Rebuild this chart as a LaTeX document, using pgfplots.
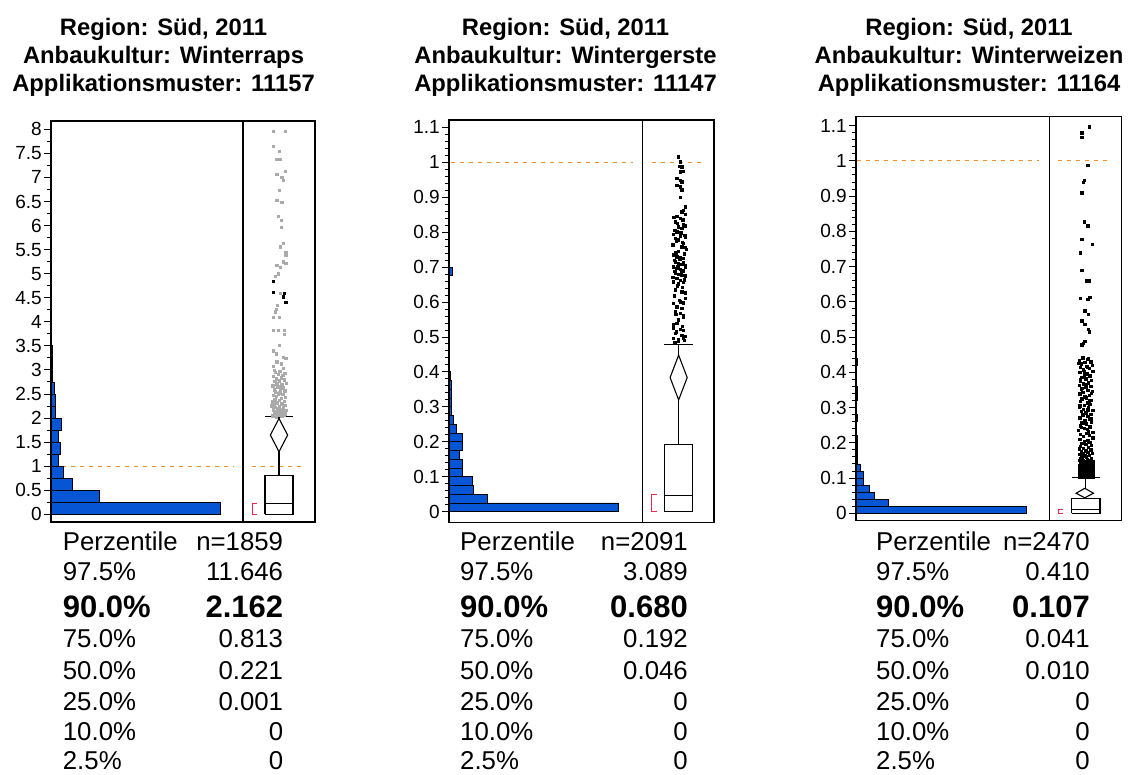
\documentclass[border=0pt]{standalone}
\usepackage{pgfplots}
\pgfplotsset{compat=1.18}
\usepackage{fontspec}
\setmainfont{Liberation Sans}
\definecolor{barblue}{RGB}{5,85,212}
\definecolor{dashorange}{RGB}{245,145,40}
\definecolor{brred}{RGB}{240,40,80}
\definecolor{ptgray}{RGB}{170,170,170}
\newcommand\tfont{\fontsize{25.8}{28}\selectfont}
\newcommand\bfont{\fontsize{31}{34}\selectfont\bfseries}
\newcommand\hfont{\fontsize{23.8}{26}\selectfont\bfseries}
\newcommand\trow[6]{\node[anchor=base west,inner sep=0pt,font=#4] at (#1pt,-#3pt) {#5};
  \node[anchor=base east,inner sep=0pt,font=#4] at (#2pt,-#3pt) {#6};}
\newcommand\ptitle[4]{\node[anchor=base,inner sep=0pt,font=\hfont] at (#1pt,-35pt) {#2};
  \node[anchor=base,inner sep=0pt,font=\hfont] at (#1pt,-63pt) {#3};
  \node[anchor=base,inner sep=0pt,font=\hfont] at (#1pt,-91pt) {#4};}
\newcommand\ptable[9]{%
  \trow{#1}{#2}{550}{\tfont}{Perzentile}{#3}
  \trow{#1}{#2}{580.7}{\tfont}{97.5\%}{#4}
  \trow{#1}{#2}{617.3}{\bfont}{90.0\%}{#5}
  \trow{#1}{#2}{647.3}{\tfont}{75.0\%}{#6}
  \trow{#1}{#2}{679}{\tfont}{50.0\%}{#7}
  \trow{#1}{#2}{710}{\tfont}{25.0\%}{#8}
  \trow{#1}{#2}{740.5}{\tfont}{10.0\%}{#9}
  \trow{#1}{#2}{769.5}{\tfont}{2.5\%}{0}}
\pgfplotsset{
  panelbase/.style={scale only axis, anchor=north west, xtick=\empty, clip=true,
    axis line style={line width=1.2pt}, every tick/.style={black, line width=1pt}},
  histax/.style={panelbase, ytick pos=left, tick align=outside, major tick length=7pt,
    minor tick length=4.5pt, yticklabel style={font=\fontsize{19}{20}\selectfont, inner sep=2pt},
    /pgf/number format/assume math mode=true, xmin=0},
  boxax/.style={panelbase, ytick=\empty, xmin=0, xmax=1},
  histbar/.style={xbar interval, fill=barblue, draw=black, line width=0.9pt},
  pts/.style={only marks, mark=square*, mark size=1.2pt, mark options={draw=none}},
  bp/.style={black, line width=1.1pt, mark=none, line join=miter},
  refline/.style={dashorange, line width=1.1pt, dash pattern=on 4pt off 5pt, mark=none},
  brk/.style={brred, line width=1pt, mark=none},
}
\begin{document}
\begin{tikzpicture}
% ---------------- Panel 1 ----------------
\begin{axis}[histax, at={(51pt,-121pt)}, width=192pt, height=401pt, xmax=1102,
  ymin=-0.16, ymax=8.173, ytick={0,0.5,...,8}, minor y tick num=1]
\addplot[refline] coordinates {(10,1)(1047,1)};
\addplot[histbar] coordinates {(970,0)(276,0.25)(122,0.5)(71,0.75)(42,1)(53,1.25)(42,1.5)(61,1.75)(27,2)(27,2.25)(19,2.5)(6,2.75)(6,3)(6,3.25)(0,3.5)(0,3.75)(0,4)(4,4.25)(4,4.5)(0,4.75)(4,5)(0,5.25)};
\end{axis}
\begin{axis}[boxax, at={(243pt,-121pt)}, width=72pt, height=401pt, ymin=-0.16, ymax=8.173]
\addplot[refline] coordinates {(0.125,1)(0.84,1)};
\addplot[pts, ptgray] coordinates {(0.421,7.96)(0.583,7.96)(0.421,7.65)(0.505,7.54)(0.468,7.38)(0.514,7.38)(0.468,7.07)(0.583,7.13)(0.537,7.01)(0.560,6.94)(0.505,6.73)(0.468,6.53)(0.537,6.48)(0.491,6.19)(0.528,6.11)(0.528,5.97)(0.560,5.63)(0.514,5.56)(0.593,5.45)(0.593,5.38)(0.560,5.25)(0.468,5.18)(0.514,5.14)(0.593,5.22)(0.491,5.00)(0.444,4.95)(0.514,4.60)(0.458,4.26)(0.477,4.35)(0.444,4.21)(0.421,4.09)(0.505,4.09)(0.421,3.83)(0.491,3.83)(0.574,3.83)(0.574,3.74)(0.505,3.52)(0.421,3.40)(0.458,3.34)(0.560,3.27)(0.593,3.24)(0.468,3.17)(0.528,3.13)(0.421,3.08)(0.560,3.03)
(0.46,2.03)(0.53,2.04)(0.41,2.05)(0.57,2.06)(0.49,2.07)(0.44,2.08)(0.59,2.09)(0.51,2.10)(0.43,2.12)(0.55,2.13)(0.47,2.14)(0.60,2.16)(0.42,2.17)(0.52,2.19)(0.48,2.20)(0.56,2.22)(0.45,2.23)(0.50,2.25)(0.58,2.27)(0.43,2.28)(0.54,2.30)(0.47,2.32)(0.41,2.34)(0.57,2.35)(0.50,2.37)(0.44,2.39)(0.53,2.41)(0.59,2.43)(0.46,2.45)(0.42,2.47)(0.55,2.49)(0.49,2.51)(0.51,2.53)(0.45,2.55)(0.58,2.57)(0.43,2.59)(0.52,2.61)(0.56,2.63)(0.48,2.65)(0.41,2.67)(0.54,2.69)(0.47,2.71)(0.60,2.73)(0.44,2.76)(0.50,2.78)(0.57,2.80)(0.46,2.82)(0.53,2.84)(0.42,2.87)(0.55,2.89)(0.49,2.91)(0.58,2.93)(0.45,2.95)(0.51,2.97)(0.43,2.99)(0.56,2.21)(0.48,2.15)(0.52,2.11)(0.40,2.26)(0.54,2.05)};
\addplot[pts, black] coordinates {(0.421,4.84)(0.421,4.62)(0.574,4.59)(0.560,4.52)(0.593,4.41)};
\addplot[bp] coordinates {(0.305,0.001)(0.695,0.001)(0.695,0.813)(0.305,0.813)(0.305,0.001)};
\addplot[bp] coordinates {(0.305,0.221)(0.695,0.221)};
\addplot[bp] coordinates {(0.5,0.813)(0.5,2.03)};
\addplot[bp] coordinates {(0.305,2.03)(0.695,2.03)};
\addplot[bp, fill=white] coordinates {(0.5,1.99)(0.62,1.647)(0.5,1.30)(0.38,1.647)(0.5,1.99)};
\addplot[brk] coordinates {(0.19,0)(0.125,0)(0.125,0.23)(0.19,0.23)};
\end{axis}
% ---------------- Panel 2 ----------------
\begin{axis}[histax, at={(449pt,-120pt)}, width=193.7pt, height=402.3pt, xmax=1075,
  ymin=-0.0303, ymax=1.121, ytick={0,0.1,0.2,0.3,0.4,0.5,0.6,0.7,0.8,0.9,1,1.1}, minor y tick num=4]
\addplot[refline] coordinates {(10,1)(1021,1)};
\addplot[histbar] coordinates {(940,0)(213,0.025)(137,0.05)(128,0.075)(76,0.1)(76,0.125)(57,0.15)(76,0.175)(76,0.2)(41,0.225)(24,0.25)(15,0.275)(12,0.3)(12,0.325)(12,0.35)(10,0.375)(4,0.4)(4,0.425)(4,0.45)(4,0.475)(4,0.5)(0,0.525)(4,0.55)(4,0.575)(0,0.6)(4,0.625)(4,0.65)(18,0.675)(4,0.7)(4,0.725)(4,0.75)(4,0.775)(4,0.8)(4,0.825)(4,0.85)(0,0.875)};
\end{axis}
\begin{axis}[boxax, at={(642.7pt,-120pt)}, width=71.3pt, height=402.3pt, ymin=-0.0303, ymax=1.121]
\addplot[refline] coordinates {(0.126,1)(0.845,1)};
\addplot[pts, black] coordinates {(0.50,1.016)(0.523,1.002)(0.514,0.989)(0.547,0.987)(0.523,0.973)(0.57,0.975)(0.476,0.954)(0.523,0.949)(0.547,0.945)(0.476,0.935)(0.523,0.930)(0.547,0.921)(0.523,0.900)(0.593,0.873)(0.57,0.863)(0.547,0.859)(0.593,0.852)(0.476,0.846)(0.43,0.843)(0.523,0.840)(0.453,0.830)(0.57,0.821)(0.50,0.816)(0.547,0.811)(0.476,0.801)(0.43,0.795)(0.523,0.789)(0.593,0.785)(0.453,0.782)(0.50,0.778)(0.57,0.768)(0.547,0.759)(0.593,0.757)(0.43,0.735)(0.476,0.730)(0.523,0.728)(0.57,0.725)(0.453,0.716)(0.50,0.711)(0.547,0.709)(0.593,0.706)(0.43,0.701)(0.476,0.697)(0.523,0.694)(0.57,0.690)(0.453,0.684)(0.50,0.680)(0.547,0.677)(0.593,0.675)(0.476,0.668)(0.523,0.663)(0.43,0.658)(0.57,0.656)(0.50,0.652)(0.453,0.635)(0.547,0.630)(0.593,0.627)(0.43,0.596)(0.523,0.601)(0.57,0.598)(0.476,0.587)(0.547,0.582)(0.453,0.572)(0.523,0.568)(0.57,0.558)(0.50,0.549)(0.476,0.539)(0.43,0.525)(0.523,0.522)(0.57,0.520)(0.453,0.511)(0.547,0.506)(0.43,0.496)(0.50,0.493)(0.57,0.496)
(0.44,0.842)(0.56,0.836)(0.48,0.826)(0.60,0.818)(0.45,0.806)(0.53,0.798)(0.59,0.792)(0.47,0.775)(0.55,0.771)(0.42,0.764)(0.61,0.752)(0.50,0.746)(0.46,0.741)(0.58,0.738)(0.52,0.722)(0.44,0.719)(0.57,0.714)(0.49,0.703)(0.60,0.699)(0.45,0.688)(0.54,0.686)(0.42,0.672)(0.58,0.664)(0.48,0.647)(0.55,0.642)(0.44,0.618)(0.60,0.611)(0.51,0.605)(0.46,0.566)(0.57,0.561)(0.43,0.535)(0.55,0.531)(0.47,0.515)(0.59,0.503)(0.50,0.488)(0.45,0.485)(0.58,0.490)};
\addplot[bp] coordinates {(0.303,0)(0.701,0)(0.701,0.192)(0.303,0.192)(0.303,0)};
\addplot[bp] coordinates {(0.303,0.046)(0.701,0.046)};
\addplot[bp] coordinates {(0.5,0.192)(0.5,0.478)};
\addplot[bp] coordinates {(0.303,0.478)(0.701,0.478)};
\addplot[bp, fill=white] coordinates {(0.504,0.448)(0.624,0.384)(0.504,0.32)(0.384,0.384)(0.504,0.448)};
\addplot[brk] coordinates {(0.196,0)(0.126,0)(0.126,0.048)(0.196,0.048)};
\end{axis}
% ---------------- Panel 3 ----------------
\begin{axis}[histax, at={(856pt,-116.7pt)}, width=193.3pt, height=404pt, xmax=1759,
  ymin=-0.021, ymax=1.1254, ytick={0,0.1,0.2,0.3,0.4,0.5,0.6,0.7,0.8,0.9,1,1.1}, minor y tick num=4]
\addplot[refline] coordinates {(5,1)(1668,1)};
\addplot[histbar] coordinates {(1547,0)(291,0.02)(164,0.04)(121,0.06)(66,0.08)(66,0.1)(39,0.12)(15,0.14)(15,0.16)(15,0.18)(15,0.2)(0,0.22)(0,0.24)(15,0.26)(0,0.28)(0,0.3)(15,0.32)(15,0.34)(0,0.36)(0,0.38)(0,0.4)(15,0.42)(0,0.44)};
\end{axis}
\begin{axis}[boxax, at={(1049.3pt,-116.7pt)}, width=72.4pt, height=404pt, ymin=-0.021, ymax=1.1254]
\addplot[refline] coordinates {(0.125,1)(0.84,1)};
\addplot[pts, black] coordinates {(0.55,1.097)(0.447,1.08)(0.447,1.067)(0.53,0.987)(0.484,0.946)(0.47,0.94)(0.447,0.91)(0.48,0.827)(0.53,0.816)(0.447,0.778)(0.594,0.764)(0.424,0.74)(0.447,0.69)(0.51,0.66)(0.55,0.66)(0.424,0.61)(0.53,0.607)(0.56,0.614)(0.49,0.575)(0.54,0.565)(0.447,0.546)(0.49,0.536)(0.54,0.522)(0.55,0.515)(0.447,0.478)(0.49,0.488)(0.47,0.483)
(0.46,0.441)(0.53,0.437)(0.41,0.433)(0.57,0.430)(0.49,0.428)(0.44,0.425)(0.59,0.421)(0.51,0.418)(0.43,0.414)(0.55,0.411)(0.47,0.407)(0.60,0.404)(0.42,0.400)(0.52,0.396)(0.48,0.393)(0.56,0.389)(0.45,0.386)(0.50,0.382)(0.58,0.378)(0.43,0.375)(0.54,0.371)(0.47,0.368)(0.41,0.364)(0.57,0.360)(0.50,0.357)(0.44,0.353)(0.53,0.350)(0.59,0.346)(0.46,0.343)(0.42,0.339)(0.55,0.335)(0.49,0.332)(0.51,0.328)(0.45,0.325)(0.58,0.321)(0.43,0.318)(0.52,0.314)(0.56,0.310)(0.48,0.307)(0.41,0.303)(0.54,0.300)(0.47,0.296)(0.60,0.292)(0.44,0.289)(0.50,0.285)(0.57,0.282)(0.46,0.278)(0.53,0.275)(0.42,0.271)(0.55,0.267)(0.49,0.264)(0.58,0.260)(0.45,0.257)(0.51,0.253)(0.43,0.249)(0.56,0.246)(0.48,0.242)(0.52,0.239)(0.40,0.235)(0.54,0.232)
(0.51,0.228)(0.43,0.225)(0.55,0.221)(0.47,0.218)(0.60,0.214)(0.42,0.211)(0.52,0.208)(0.48,0.205)(0.56,0.202)(0.45,0.199)(0.50,0.196)(0.58,0.193)(0.43,0.190)(0.54,0.188)(0.47,0.185)(0.41,0.183)(0.57,0.180)(0.50,0.178)(0.44,0.176)(0.53,0.174)(0.59,0.171)(0.46,0.169)(0.42,0.167)(0.55,0.165)(0.49,0.163)(0.51,0.161)(0.45,0.159)(0.58,0.157)(0.43,0.155)(0.52,0.153)
(0.54,0.439)(0.40,0.426)(0.52,0.416)(0.48,0.402)(0.56,0.391)(0.43,0.380)(0.51,0.366)(0.45,0.355)(0.58,0.341)(0.49,0.330)(0.55,0.319)(0.42,0.305)(0.53,0.294)(0.46,0.280)(0.57,0.269)(0.50,0.255)(0.44,0.244)(0.60,0.230)(0.47,0.219)(0.54,0.206)
(0.42,0.103)(0.47,0.103)(0.52,0.103)(0.57,0.103)(0.61,0.103)(0.44,0.107)(0.49,0.107)(0.54,0.107)(0.59,0.107)(0.42,0.111)(0.47,0.111)(0.52,0.111)(0.57,0.111)(0.61,0.111)(0.44,0.115)(0.49,0.115)(0.54,0.115)(0.59,0.115)(0.42,0.119)(0.47,0.119)(0.52,0.119)(0.57,0.119)(0.61,0.119)(0.44,0.123)(0.49,0.123)(0.54,0.123)(0.59,0.123)(0.42,0.127)(0.47,0.127)(0.52,0.127)(0.57,0.127)(0.61,0.127)(0.44,0.131)(0.49,0.131)(0.54,0.131)(0.59,0.131)(0.42,0.135)(0.47,0.135)(0.52,0.135)(0.57,0.135)(0.61,0.135)(0.44,0.139)(0.49,0.139)(0.54,0.139)(0.59,0.139)(0.43,0.143)(0.48,0.143)(0.53,0.143)(0.58,0.143)(0.45,0.147)(0.50,0.147)(0.56,0.147)(0.60,0.147)(0.42,0.151)(0.47,0.151)(0.55,0.151)};
\addplot[bp] coordinates {(0.309,0)(0.70,0)(0.70,0.041)(0.309,0.041)(0.309,0)};
\addplot[bp] coordinates {(0.309,0.010)(0.70,0.010)};
\addplot[bp] coordinates {(0.505,0.041)(0.505,0.101)};
\addplot[bp] coordinates {(0.309,0.101)(0.70,0.101)};
\addplot[bp, fill=white] coordinates {(0.49,0.071)(0.61,0.057)(0.49,0.044)(0.37,0.057)(0.49,0.071)};
\addplot[brk] coordinates {(0.19,0)(0.125,0)(0.125,0.011)(0.19,0.011)};
\end{axis}
% ---------------- Titles ----------------
\ptitle{163.5}{Region: Süd, 2011}{Anbaukultur: Winterraps}{Applikationsmuster: 11157}
\ptitle{565.5}{Region: Süd, 2011}{Anbaukultur: Wintergerste}{Applikationsmuster: 11147}
\ptitle{969}{Region: Süd, 2011}{Anbaukultur: Winterweizen}{Applikationsmuster: 11164}
% ---------------- Tables ----------------
\ptable{62.7}{283.3}{n=1859}{11.646}{2.162}{0.813}{0.221}{0.001}{0}
\ptable{460}{688}{n=2091}{3.089}{0.680}{0.192}{0.046}{0}{0}
\ptable{876}{1090}{n=2470}{0.410}{0.107}{0.041}{0.010}{0}{0}
\pgfresetboundingbox
\path (0,0) rectangle (1131pt,-774pt);
\end{tikzpicture}
\end{document}
